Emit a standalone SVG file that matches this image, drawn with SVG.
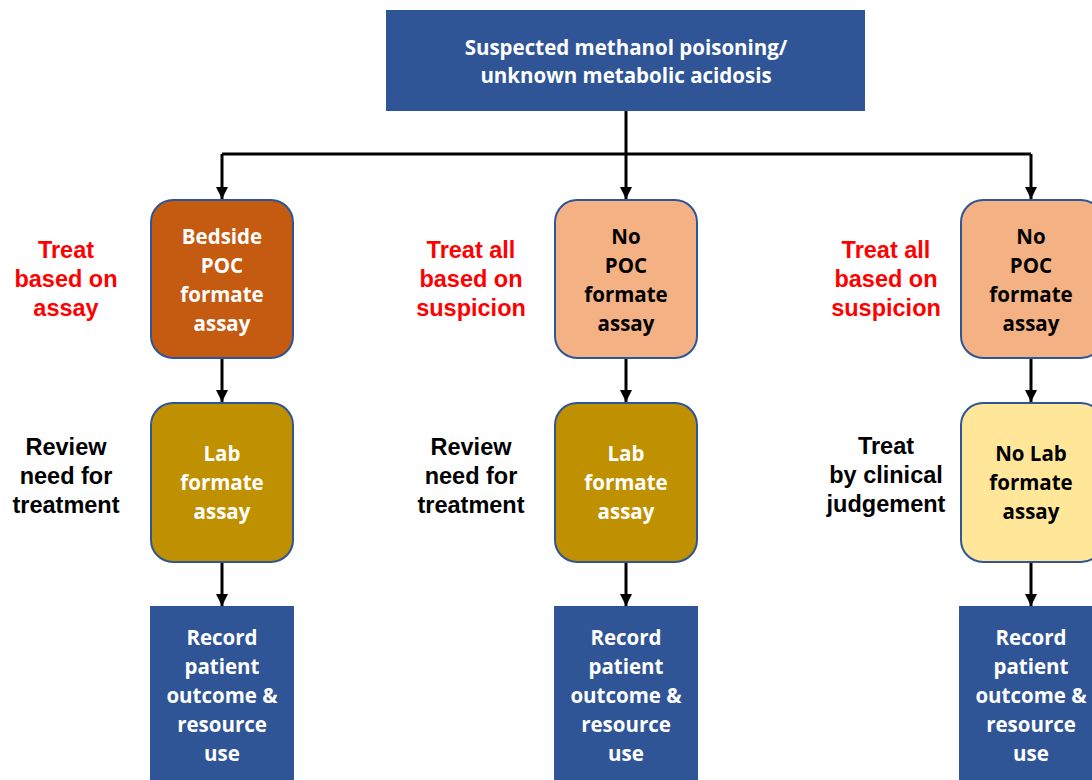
<svg xmlns="http://www.w3.org/2000/svg" width="1092" height="780" viewBox="0 0 1092 780">
<defs>
<marker id="ah" markerUnits="userSpaceOnUse" markerWidth="12" markerHeight="12" refX="12" refY="6" orient="auto">
<path d="M0,0 L12,6 L0,12 Z" fill="#000"/>
</marker>
<style>
.bt{font-family:"Open Sans","Noto Sans","Liberation Sans",sans-serif;font-weight:bold;font-size:20.5px;text-anchor:middle}
.lb{font-family:"Liberation Sans",Arial,sans-serif;font-weight:bold;font-size:23.5px;text-anchor:middle}
.w{fill:#fff}.k{fill:#000}.r{fill:#ff0000}
.blue{fill:#2F5597}
.rnd{stroke:#2F5597;stroke-width:2}
.c{fill:none;stroke:#000;stroke-width:3;marker-end:url(#ah)}
.ln{fill:none;stroke:#000;stroke-width:3}
</style>
</defs>
<rect width="1092" height="780" fill="#fff"/>
<g id="connectors">
<path class="c" d="M626,111 V199"/>
<path class="ln" d="M222,154 H1031"/>
<path class="c" d="M222,154 V199"/>
<path class="c" d="M1031,154 V199"/>
<path class="c" d="M222,358 V402"/>
<path class="c" d="M626,358 V402"/>
<path class="c" d="M1031,358 V402"/>
<path class="c" d="M222,562 V606"/>
<path class="c" d="M626,562 V606"/>
<path class="c" d="M1031,562 V606"/>
</g>
<g id="top">
<rect class="blue" x="386" y="10" width="479" height="101"/>
<text class="bt w" x="626" y="55">Suspected methanol poisoning/</text>
<text class="bt w" x="626" y="83">unknown metabolic acidosis</text>
</g>
<g id="poc1">
<rect class="rnd" x="151" y="200" width="142" height="158" rx="22" fill="#C55A11"/>
<text class="bt w" x="222" y="244">Bedside</text>
<text class="bt w" x="222" y="273">POC</text>
<text class="bt w" x="222" y="302">formate</text>
<text class="bt w" x="222" y="331">assay</text>
</g>
<g id="poc2">
<rect class="rnd" x="555" y="200" width="142" height="158" rx="22" fill="#F4B183"/>
<text class="bt k" x="626" y="244">No</text>
<text class="bt k" x="626" y="273">POC</text>
<text class="bt k" x="626" y="302">formate</text>
<text class="bt k" x="626" y="331">assay</text>
</g>
<g id="poc3">
<rect class="rnd" x="961" y="200" width="142" height="158" rx="22" fill="#F4B183"/>
<text class="bt k" x="1031" y="244">No</text>
<text class="bt k" x="1031" y="273">POC</text>
<text class="bt k" x="1031" y="302">formate</text>
<text class="bt k" x="1031" y="331">assay</text>
</g>
<g id="lab1">
<rect class="rnd" x="151" y="403" width="142" height="159" rx="22" fill="#BF9000"/>
<text class="bt w" x="222" y="461">Lab</text>
<text class="bt w" x="222" y="490">formate</text>
<text class="bt w" x="222" y="519">assay</text>
</g>
<g id="lab2">
<rect class="rnd" x="555" y="403" width="142" height="159" rx="22" fill="#BF9000"/>
<text class="bt w" x="626" y="461">Lab</text>
<text class="bt w" x="626" y="490">formate</text>
<text class="bt w" x="626" y="519">assay</text>
</g>
<g id="lab3">
<rect class="rnd" x="961" y="403" width="142" height="159" rx="22" fill="#FFE699"/>
<text class="bt k" x="1031" y="461">No Lab</text>
<text class="bt k" x="1031" y="490">formate</text>
<text class="bt k" x="1031" y="519">assay</text>
</g>
<g id="rec1">
<rect class="blue" x="150" y="606" width="144" height="184"/>
<text class="bt w" x="222" y="645">Record</text>
<text class="bt w" x="222" y="674">patient</text>
<text class="bt w" x="222" y="703">outcome &amp;</text>
<text class="bt w" x="222" y="732">resource</text>
<text class="bt w" x="222" y="761">use</text>
</g>
<g id="rec2">
<rect class="blue" x="554" y="606" width="144" height="184"/>
<text class="bt w" x="626" y="645">Record</text>
<text class="bt w" x="626" y="674">patient</text>
<text class="bt w" x="626" y="703">outcome &amp;</text>
<text class="bt w" x="626" y="732">resource</text>
<text class="bt w" x="626" y="761">use</text>
</g>
<g id="rec3">
<rect class="blue" x="959" y="606" width="144" height="184"/>
<text class="bt w" x="1031" y="645">Record</text>
<text class="bt w" x="1031" y="674">patient</text>
<text class="bt w" x="1031" y="703">outcome &amp;</text>
<text class="bt w" x="1031" y="732">resource</text>
<text class="bt w" x="1031" y="761">use</text>
</g>
<g id="labels">
<text class="lb r" x="66" y="258">Treat</text>
<text class="lb r" x="66" y="287">based on</text>
<text class="lb r" x="66" y="316">assay</text>
<text class="lb r" x="471" y="258">Treat all</text>
<text class="lb r" x="471" y="287">based on</text>
<text class="lb r" x="471" y="316">suspicion</text>
<text class="lb r" x="886" y="258">Treat all</text>
<text class="lb r" x="886" y="287">based on</text>
<text class="lb r" x="886" y="316">suspicion</text>
<text class="lb k" x="66" y="455">Review</text>
<text class="lb k" x="66" y="484">need for</text>
<text class="lb k" x="66" y="513">treatment</text>
<text class="lb k" x="471" y="455">Review</text>
<text class="lb k" x="471" y="484">need for</text>
<text class="lb k" x="471" y="513">treatment</text>
<text class="lb k" x="886" y="454">Treat</text>
<text class="lb k" x="886" y="483">by clinical</text>
<text class="lb k" x="886" y="512">judgement</text>
</g>
</svg>
